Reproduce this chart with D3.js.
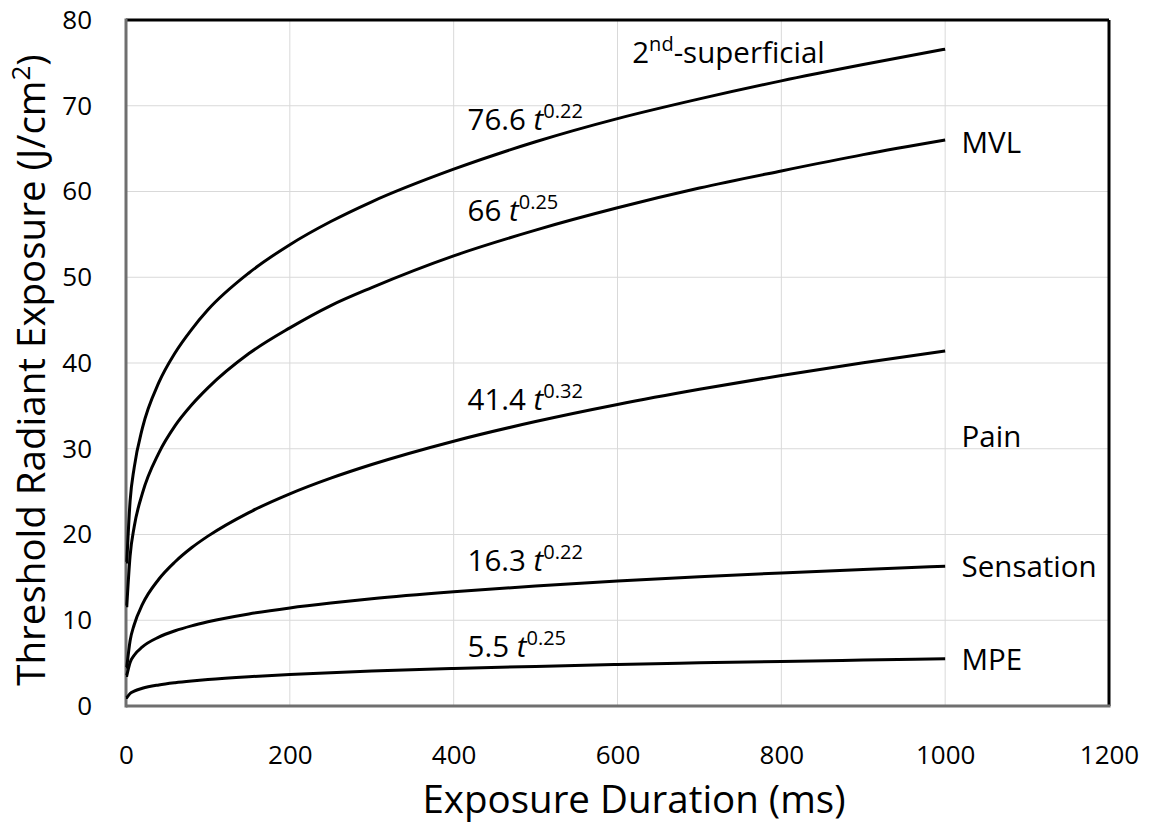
<!DOCTYPE html>
<html>
<head>
<meta charset="utf-8">
<script src="https://cdn.jsdelivr.net/npm/d3@7"></script>
<style>
  body { margin: 0; background: #fff; }
  text { font-family: "Open Sans", sans-serif; fill: #000; }
</style>
</head>
<body>
<svg width="1149" height="824"></svg>
<script>
let times = [1, 5, 10, 20, 40, 60, 80, 100, 150, 200, 250, 300, 400, 500, 600, 700, 800, 900, 1000]

// threshold radiant exposure (J/cm2)
let superficial = [16.8, 23.9, 27.8, 32.4, 37.7, 41.2, 43.9, 46.2, 50.5, 53.8, 56.5, 58.8, 62.6, 65.8, 68.5, 70.8, 72.9, 74.8, 76.6]
let mvl = [11.7, 17.5, 20.9, 24.8, 29.5, 32.7, 35.1, 37.1, 41.1, 44.1, 46.7, 48.8, 52.5, 55.5, 58.1, 60.4, 62.4, 64.3, 66.0]
let pain = [4.54, 7.6, 9.48, 11.84, 14.78, 16.82, 18.45, 19.81, 22.56, 24.74, 26.57, 28.16, 30.88, 33.17, 35.16, 36.93, 38.55, 40.03, 41.4]
let sensation = [3.57, 5.08, 5.92, 6.89, 8.03, 8.78, 9.35, 9.82, 10.74, 11.44, 12.01, 12.51, 13.32, 14.0, 14.57, 15.07, 15.52, 15.93, 16.3]
let mpe = [0.98, 1.46, 1.74, 2.07, 2.46, 2.72, 2.92, 3.09, 3.42, 3.68, 3.89, 4.07, 4.37, 4.62, 4.84, 5.03, 5.2, 5.36, 5.5]

let x_ticks = [0, 200, 400, 600, 800, 1000, 1200]
let y_ticks = [0, 10, 20, 30, 40, 50, 60, 70, 80]

// fit labels: coefficient, exponent, where the label sits (ms, J/cm2)
let fit_coef = ["76.6", "66", "41.4", "16.3", "5.5"]
let fit_exp = ["0.22", "0.25", "0.32", "0.22", "0.25"]
let fit_at = [[417, 67.2], [417, 56.6], [417, 34.5], [417, 15.7], [417, 5.7]]

let names = ["MVL", "Pain", "Sensation", "MPE"]
let name_at = [[1020, 64.5], [1020, 30.2], [1020, 15.0], [1020, 4.2]]

let margin = {left: 126, top: 20, right: 40, bottom: 118}
let W = 1149, H = 824
let pw = W - margin.left - margin.right
let ph = H - margin.top - margin.bottom

var svg = d3.select("svg")
var g = svg.append("g").attr("transform", `translate(${margin.left},${margin.top})`)

var x = d3.scaleLinear().domain([0, 1200]).range([0, pw])
var y = d3.scaleLinear().domain([0, 80]).range([ph, 0])

// grid
g.selectAll(".vg").data(x_ticks.slice(1, -1)).enter().append("line")
  .attr("x1", d => x(d)).attr("x2", d => x(d))
  .attr("y1", 0).attr("y2", ph)
  .attr("stroke", "#d9d9d9").attr("stroke-width", 1)
g.selectAll(".hg").data(y_ticks.slice(1, -1)).enter().append("line")
  .attr("x1", 0).attr("x2", pw)
  .attr("y1", d => y(d)).attr("y2", d => y(d))
  .attr("stroke", "#d9d9d9").attr("stroke-width", 1)

// axes (labels only, no tick marks)
var xa = g.append("g").attr("transform", `translate(0,${ph})`)
  .call(d3.axisBottom(x).tickValues(x_ticks).tickFormat(d3.format("d")).tickSize(0).tickPadding(40))
var ya = g.append("g")
  .call(d3.axisLeft(y).tickValues(y_ticks).tickFormat(d3.format("d")).tickSize(0).tickPadding(34))
xa.select(".domain").remove()
ya.select(".domain").remove()
svg.selectAll(".tick text").attr("font-size", 26).attr("font-family", "Open Sans, sans-serif").attr("fill", "#000")

// plot border
g.append("line").attr("x1", 0).attr("x2", pw).attr("y1", 0).attr("y2", 0)
  .attr("stroke", "#000").attr("stroke-width", 3)
g.append("line").attr("x1", pw).attr("x2", pw).attr("y1", 0).attr("y2", ph)
  .attr("stroke", "#000").attr("stroke-width", 3)
g.append("line").attr("x1", 0).attr("x2", 0).attr("y1", -1.5).attr("y2", ph + 1.5)
  .attr("stroke", "#6f6f6f").attr("stroke-width", 3)
g.append("line").attr("x1", 0).attr("x2", pw + 1.5).attr("y1", ph).attr("y2", ph)
  .attr("stroke", "#6f6f6f").attr("stroke-width", 3)

// curves
let series = [superficial, mvl, pain, sensation, mpe]
var line = d3.line()
  .x((d, i) => x(times[i]))
  .y(d => y(d))
  .curve(d3.curveMonotoneX)

g.selectAll(".curve").data(series).enter().append("path")
  .attr("d", d => "M" + x(0) + "," + y(d[0]) + "L" + line(d).slice(1))
  .attr("fill", "none")
  .attr("stroke", "#000")
  .attr("stroke-width", 3)

// fit labels
for (i = 0; i < fit_coef.length; i++) {
  let t = g.append("text")
    .attr("x", x(fit_at[i][0])).attr("y", y(fit_at[i][1]))
    .attr("font-size", 29.5)
  t.append("tspan").text(fit_coef[i] + " ")
  t.append("tspan").attr("font-style", "italic").text("t")
  t.append("tspan").attr("font-size", 20).attr("dy", -12).text(fit_exp[i])
}

// 2nd-superficial label
let sup = g.append("text")
  .attr("x", x(618)).attr("y", y(75.0))
  .attr("font-size", 29.5)
sup.append("tspan").text("2")
sup.append("tspan").attr("font-size", 20).attr("dy", -12).text("nd")
sup.append("tspan").attr("dy", 12).text("-superficial")

g.selectAll(".name").data(names).enter().append("text")
  .attr("x", (d, i) => x(name_at[i][0]))
  .attr("y", (d, i) => y(name_at[i][1]))
  .attr("font-size", 29.5)
  .text(d => d)

// axis titles
svg.append("text")
  .attr("x", 634).attr("y", 813)
  .attr("text-anchor", "middle")
  .attr("font-size", 38.5)
  .text("Exposure Duration (ms)")

let yt = svg.append("text")
  .attr("transform", "translate(45,370) rotate(-90)")
  .attr("text-anchor", "middle")
  .attr("font-size", 38.5)
yt.append("tspan").text("Threshold Radiant Exposure (J/cm")
yt.append("tspan").attr("font-size", 26).attr("dy", -15).text("2")
yt.append("tspan").attr("dy", 15).text(")")
</script>
</body>
</html>
